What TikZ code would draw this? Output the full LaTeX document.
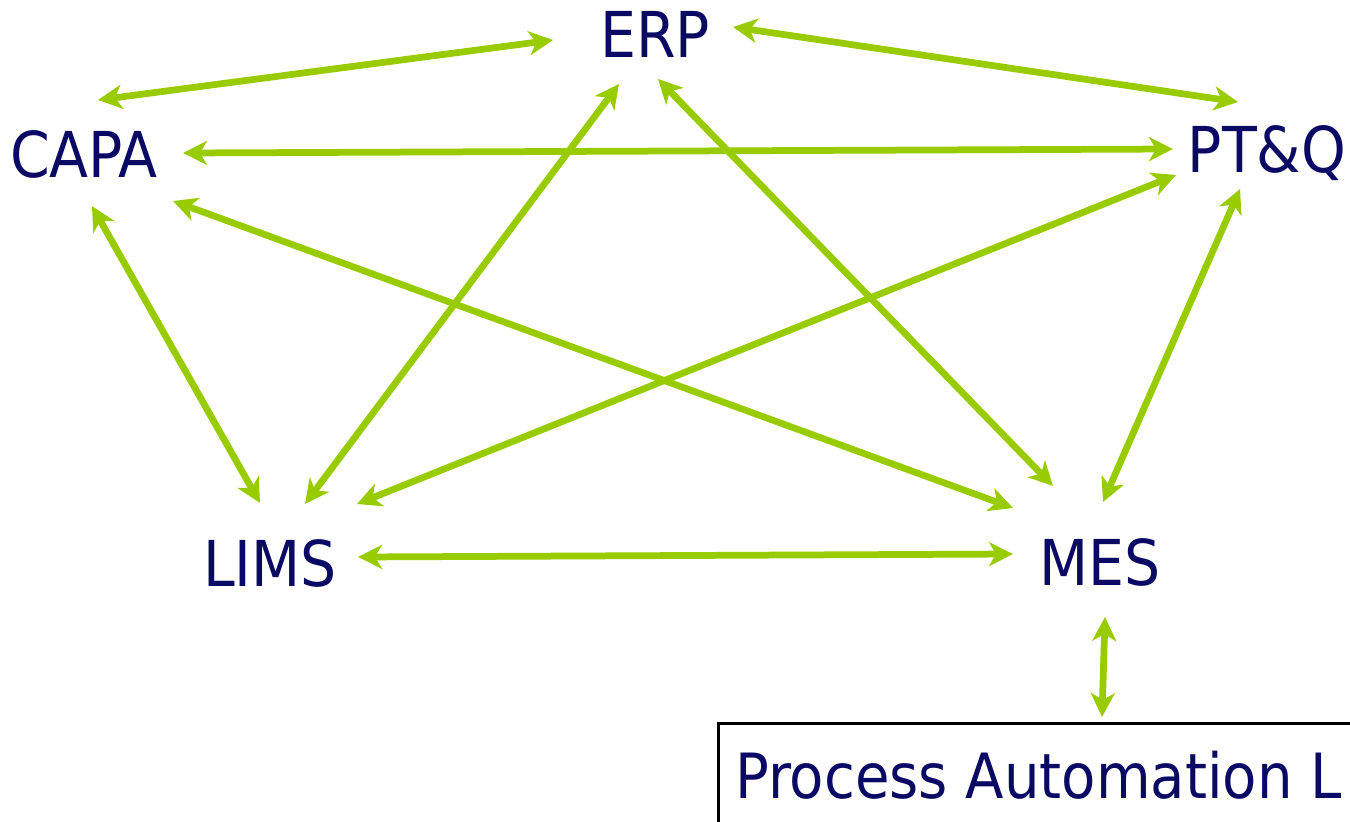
\documentclass[tikz,border=0pt]{standalone}
\usepackage{fontspec}
\setmainfont{DejaVu Sans Condensed}
\usepackage{tikz}
\usetikzlibrary{arrows.meta}
\definecolor{navytext}{RGB}{10, 10, 100}
\definecolor{linkgreen}{RGB}{153, 204, 0}
\tikzset{
    sysname/.style={text=navytext, font=\fontsize{36}{40}\selectfont, inner sep=0pt, anchor=base},
    palbox/.style={draw=black, line width=0.06cm, text=navytext, font=\fontsize{35.5}{40}\selectfont,
        inner xsep=0.34cm, inner ysep=0.54cm, anchor=base west},
    link/.style={draw=linkgreen, line width=0.135cm,
        {Stealth[length=0.48cm, width=0.48cm, inset=0.14cm]}-{Stealth[length=0.48cm, width=0.48cm, inset=0.14cm]}}
}

\begin{document}
\begin{tikzpicture}[x=0.02cm, y=-0.02cm]
    \clip (0,0) rectangle (1350,822);
    % systems
    \node[sysname] (ERP) at (655,57) {ERP};
    \node[sysname] (CAPA) at (84,177) {CAPA};
    \node[sysname] (PTQ) at (1267,172) {PT\&Q};
    \node[sysname] (LIMS) at (270,586) {LIMS};
    \node[sysname] (MES) at (1100,585) {MES};
    \node[palbox] (pal) at (717,798) {Process Automation L};

    % links between systems
    \draw[link] ([shift={(14,-77)}]CAPA.base) -- ([shift={(-102,-17)}]ERP.base);
    \draw[link] ([shift={(78,-30)}]ERP.base) -- ([shift={(-29,-70)}]PTQ.base);
    \draw[link] ([shift={(99,-24)}]CAPA.base) -- ([shift={(-94,-23)}]PTQ.base);
    \draw[link] ([shift={(8,29)}]CAPA.base) -- ([shift={(-10,-83)}]LIMS.base);
    \draw[link] ([shift={(89,24)}]CAPA.base) -- ([shift={(-87,-77)}]MES.base);
    \draw[link] ([shift={(-36,27)}]ERP.base) -- ([shift={(35,-82)}]LIMS.base);
    \draw[link] ([shift={(3,22)}]ERP.base) -- ([shift={(-47,-99)}]MES.base);
    \draw[link] ([shift={(-91,3)}]PTQ.base) -- ([shift={(87,-82)}]LIMS.base);
    \draw[link] ([shift={(-27,17)}]PTQ.base) -- ([shift={(3,-83)}]MES.base);
    \draw[link] ([shift={(88,-29)}]LIMS.base) -- ([shift={(-87,-31)}]MES.base);
    \draw[link] ([shift={(5,32)}]MES.base) -- ([shift={(385,-81)}]pal.base west);
\end{tikzpicture}
\end{document}
